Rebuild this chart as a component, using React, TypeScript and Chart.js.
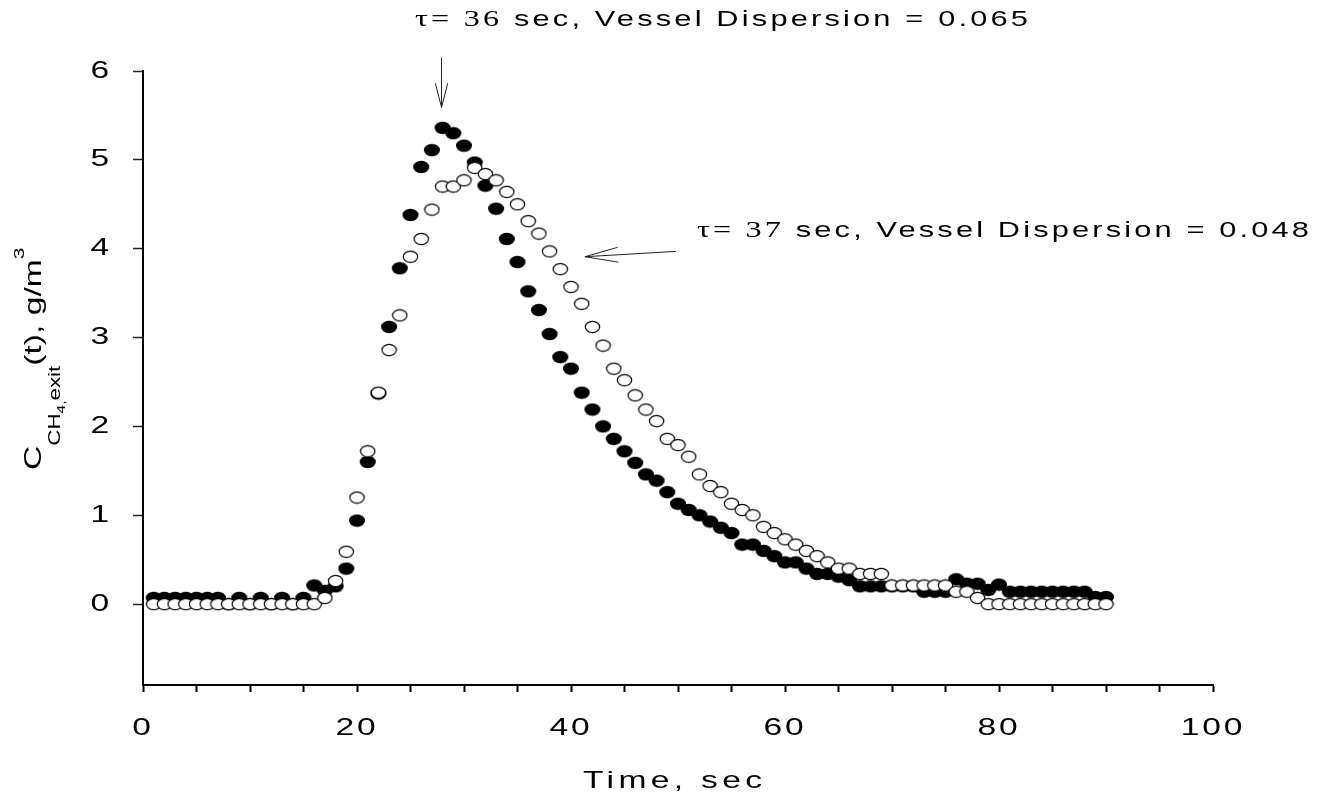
import React, { useEffect, useRef } from 'react';
import { Chart, registerables } from 'chart.js';

Chart.register(...registerables);

// ---------- data ----------
const timeSec = [
  1, 2, 3, 4, 5, 6, 7, 8, 9, 10, 11, 12, 13, 14, 15, 16, 17, 18, 19, 20,
  21, 22, 23, 24, 25, 26, 27, 28, 29, 30, 31, 32, 33, 34, 35, 36, 37, 38, 39, 40,
  41, 42, 43, 44, 45, 46, 47, 48, 49, 50, 51, 52, 53, 54, 55, 56, 57, 58, 59, 60,
  61, 62, 63, 64, 65, 66, 67, 68, 69, 70, 71, 72, 73, 74, 75, 76, 77, 78, 79, 80,
  81, 82, 83, 84, 85, 86, 87, 88, 89, 90,
];

// filled circles (tau = 36 s, dispersion 0.065)
const filledConc = [
  0.07, 0.07, 0.07, 0.07, 0.07, 0.07, 0.07, 0.0, 0.07, 0.0,
  0.07, 0.0, 0.07, 0.0, 0.07, 0.21, 0.15, 0.2, 0.4, 0.94,
  1.6, 2.37, 3.12, 3.78, 4.38, 4.92, 5.11, 5.36, 5.3, 5.16,
  4.97, 4.71, 4.45, 4.11, 3.85, 3.52, 3.31, 3.04, 2.78, 2.65,
  2.38, 2.19, 2.0, 1.86, 1.72, 1.59, 1.46, 1.39, 1.26, 1.13,
  1.06, 1.0, 0.93, 0.86, 0.8, 0.67, 0.67, 0.6, 0.54, 0.47,
  0.47, 0.4, 0.34, 0.34, 0.31, 0.27, 0.2, 0.2, 0.2, 0.2,
  0.2, 0.2, 0.14, 0.14, 0.14, 0.28, 0.23, 0.23, 0.16, 0.22,
  0.14, 0.14, 0.14, 0.14, 0.14, 0.14, 0.14, 0.14, 0.08, 0.08,
];

// open circles (tau = 37 s, dispersion 0.048)
const openConc = [
  0, 0, 0, 0, 0, 0, 0, 0, 0, 0,
  0, 0, 0, 0, 0, 0, 0.07, 0.26, 0.59, 1.2,
  1.72, 2.38, 2.86, 3.25, 3.91, 4.11, 4.44, 4.7, 4.7, 4.77,
  4.91, 4.84, 4.77, 4.64, 4.5, 4.31, 4.17, 3.97, 3.77, 3.57,
  3.38, 3.12, 2.91, 2.65, 2.52, 2.35, 2.19, 2.06, 1.86, 1.79,
  1.66, 1.46, 1.33, 1.26, 1.13, 1.06, 1.0, 0.87, 0.8, 0.73,
  0.67, 0.6, 0.54, 0.47, 0.4, 0.4, 0.34, 0.34, 0.34, 0.21,
  0.21, 0.21, 0.21, 0.21, 0.21, 0.14, 0.14, 0.07, 0, 0,
  0, 0, 0, 0, 0, 0, 0, 0, 0, 0,
];

const xTickLabels = ['0', '20', '40', '60', '80', '100'];
const yTickValues = [0, 1, 2, 3, 4, 5, 6];

const topNoteTau = 'τ= 36';
const topNoteRest = ' sec, Vessel Dispersion = 0.065';
const sideNoteTau = 'τ= 37';
const sideNoteRest = ' sec, Vessel Dispersion = 0.048';
const xTitle = 'Time, sec';

// arrows in data coordinates [x, y]
const arrow1Tail = [27.9, 6.15];
const arrow1Tip = [27.9, 5.59];
const arrow2Tail = [49.8, 3.97];
const arrow2Tip = [41.3, 3.91];

// ---------- style ----------
const W = 1319;
const H = 798;
const SX = 1.4; // horizontal text stretch of the reference
const SANS = '"Liberation Sans", Arial, sans-serif';
const SERIF = '"Liberation Serif", "Times New Roman", serif';

type Seg = { text: string; font: string; dy: number };

function makeEllipse(w: number, h: number, fill: string, stroke: string | null, lw: number) {
  const c = document.createElement('canvas');
  c.width = w + 2;
  c.height = h + 2;
  const g = c.getContext('2d')!;
  g.beginPath();
  g.ellipse(c.width / 2, c.height / 2, w / 2 - lw / 2, h / 2 - lw / 2, 0, 0, Math.PI * 2);
  g.fillStyle = fill;
  g.fill();
  if (stroke) {
    g.lineWidth = lw;
    g.strokeStyle = stroke;
    g.stroke();
  }
  return c;
}

export default function App() {
  const ref = useRef<HTMLCanvasElement>(null);

  useEffect(() => {
    const canvas = ref.current!;
    const ctx = canvas.getContext('2d')!;
    const nativeFill = CanvasRenderingContext2D.prototype.fillText.bind(ctx);
    (ctx as any).fillText = (t: string, x: number, y: number, mw?: number) => {
      ctx.save();
      ctx.translate(x, y);
      ctx.scale(SX, 1);
      if (mw !== undefined && mw !== null) nativeFill(t, 0, 0, mw / SX);
      else nativeFill(t, 0, 0);
      ctx.restore();
    };

    const drawRich = (segs: Seg[], x: number, y: number, angle: number, target: number) => {
      const c = ctx as any;
      ctx.save();
      ctx.translate(x, y);
      if (angle) ctx.rotate(angle);
      ctx.scale(SX, 1);
      ctx.textAlign = 'left';
      ctx.textBaseline = 'alphabetic';
      ctx.fillStyle = '#000';
      c.letterSpacing = '0px';
      let natural = 0;
      let n = 0;
      const widths = segs.map((s) => {
        ctx.font = s.font;
        const w = ctx.measureText(s.text).width;
        natural += w;
        n += Array.from(s.text).length;
        return w;
      });
      const ls = Math.max(0, (target / SX - natural) / Math.max(1, n - 1));
      c.letterSpacing = ls + 'px';
      let cx = 0;
      segs.forEach((s, i) => {
        ctx.font = s.font;
        nativeFill(s.text, cx, s.dy);
        cx += widths[i] + Array.from(s.text).length * ls;
      });
      ctx.restore();
    };

    const drawArrow = (chart: any, tail: number[], tip: number[], headLen: number, halfAngle: number) => {
      const xs = chart.scales.x;
      const ys = chart.scales.y;
      const x1 = xs.getPixelForValue(tail[0]);
      const y1 = ys.getPixelForValue(tail[1]);
      const x2 = xs.getPixelForValue(tip[0]);
      const y2 = ys.getPixelForValue(tip[1]);
      const a = Math.atan2(y1 - y2, x1 - x2);
      ctx.save();
      ctx.strokeStyle = '#222';
      ctx.lineWidth = 1;
      ctx.beginPath();
      ctx.moveTo(x1, y1);
      ctx.lineTo(x2, y2);
      ctx.moveTo(x2 + headLen * Math.cos(a - halfAngle), y2 + headLen * Math.sin(a - halfAngle));
      ctx.lineTo(x2, y2);
      ctx.lineTo(x2 + headLen * Math.cos(a + halfAngle), y2 + headLen * Math.sin(a + halfAngle));
      ctx.stroke();
      ctx.restore();
    };

    const annoPlugin = {
      id: 'annotations',
      beforeDraw: () => {
        (ctx as any).letterSpacing = '2px';
      },
      afterDraw: (chart: any) => {
        drawArrow(chart, arrow1Tail, arrow1Tip, 25, 0.25);
        drawArrow(chart, arrow2Tail, arrow2Tip, 34, 0.22);
        drawRich(
          [
            { text: topNoteTau, font: `23px ${SERIF}`, dy: 0 },
            { text: topNoteRest, font: `22px ${SANS}`, dy: 0 },
          ],
          415, 26, 0, 613,
        );
        drawRich(
          [
            { text: sideNoteTau, font: `23px ${SERIF}`, dy: 0 },
            { text: sideNoteRest, font: `22px ${SANS}`, dy: 0 },
          ],
          697, 237, 0, 612,
        );
        drawRich([{ text: xTitle, font: `24px ${SANS}`, dy: 0 }], 583, 788, 0, 179);
        drawRich(
          [
            { text: 'C', font: `24px ${SANS}`, dy: 0 },
            { text: 'CH', font: `16px ${SANS}`, dy: 19 },
            { text: '4,', font: `11px ${SANS}`, dy: 24 },
            { text: 'exit', font: `16px ${SANS}`, dy: 19 },
            { text: '(t), g/m', font: `24px ${SANS}`, dy: 0 },
            { text: '3', font: `15px ${SANS}`, dy: -17 },
          ],
          41, 470, -Math.PI / 2, 198,
        );
      },
    };

    const filledImg = makeEllipse(16, 12.5, '#000', null, 0);
    const openImg = makeEllipse(15.5, 12.5, '#fff', '#000', 1.2);

    const chart = new Chart(ctx, {
      type: 'scatter',
      data: {
        datasets: [
          {
            label: 'τ = 37 sec',
            data: timeSec.map((t, i) => ({ x: t, y: openConc[i] })),
            pointStyle: openImg as any,
            pointRadius: 7,
            showLine: false,
            order: 0,
          },
          {
            label: 'τ = 36 sec',
            data: timeSec.map((t, i) => ({ x: t, y: filledConc[i] })),
            pointStyle: filledImg as any,
            pointRadius: 7,
            showLine: false,
            order: 1,
          },
        ],
      },
      options: {
        responsive: false,
        animation: false,
        devicePixelRatio: 1,
        events: [],
        layout: { padding: { left: 0, right: 106, top: 71, bottom: 0 } },
        plugins: { legend: { display: false }, tooltip: { enabled: false } },
        scales: {
          x: {
            type: 'linear',
            position: 'bottom',
            min: 0,
            max: 100,
            afterFit: (s: any) => {
              s.height = 113;
            },
            ticks: {
              stepSize: 5,
              autoSkip: false,
              maxRotation: 0,
              minRotation: 0,
              padding: 22,
              color: '#000',
              font: { family: SANS, size: 24 },
              callback: (v: any) => {
                const s = String(v);
                return xTickLabels.includes(s) ? s : '';
              },
            },
            grid: {
              drawOnChartArea: false,
              drawTicks: true,
              tickLength: 7,
              tickColor: '#000',
              tickWidth: 2,
            },
            border: { display: true, color: '#000', width: 2 },
          },
          y: {
            type: 'linear',
            min: -0.91,
            max: 6,
            afterFit: (s: any) => {
              s.width = 143;
            },
            afterBuildTicks: (s: any) => {
              s.ticks = yTickValues.map((v) => ({ value: v }));
            },
            ticks: {
              padding: 21,
              color: '#000',
              font: { family: SANS, size: 24 },
              callback: (v: any) => String(v),
            },
            grid: {
              drawOnChartArea: false,
              drawTicks: true,
              tickLength: 10,
              tickColor: '#222',
              tickWidth: 1.5,
            },
            border: { display: true, color: '#000', width: 2 },
          },
        },
      } as any,
      plugins: [annoPlugin],
    } as any);

    return () => {
      chart.destroy();
      delete (ctx as any).fillText;
    };
  }, []);

  return (
    <div style={{ position: 'absolute', left: 0, top: 0, width: W, height: H, background: '#fff' }}>
      <canvas ref={ref} width={W} height={H} style={{ display: 'block', width: W, height: H }} />
    </div>
  );
}
